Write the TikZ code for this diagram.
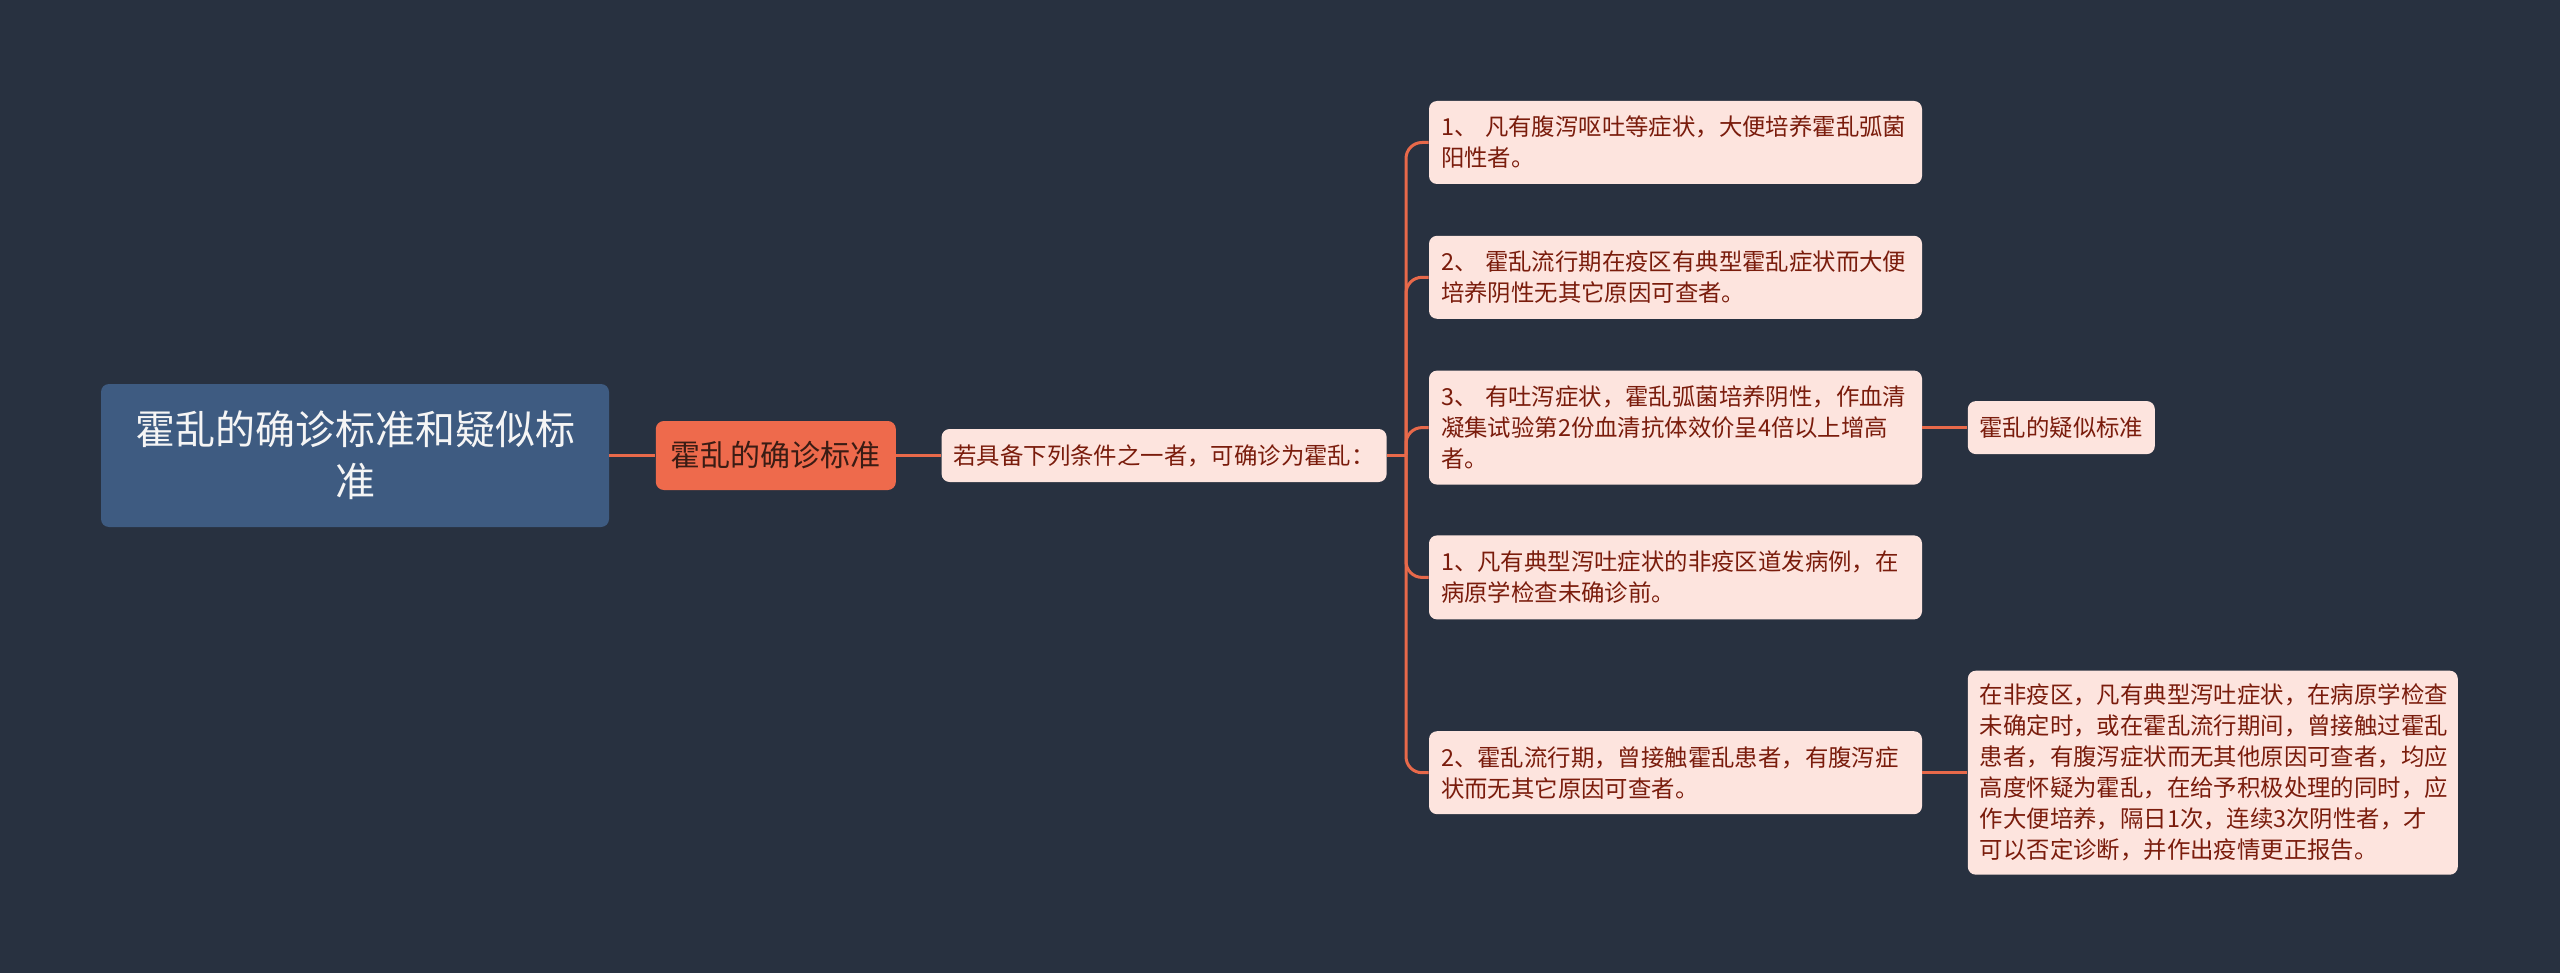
\documentclass[tikz,border=0pt]{standalone}
\usepackage{fontspec}
\newfontfamily\cjk{Noto Sans CJK SC}
\usetikzlibrary{positioning}
\definecolor{bgdark}{HTML}{283140}
\definecolor{rootblue}{HTML}{3E5B81}
\definecolor{topiccoral}{HTML}{EE6A4C}
\definecolor{topictext}{HTML}{3A1C14}
\definecolor{leafpink}{HTML}{FDE4DE}
\definecolor{leaftext}{HTML}{7A1C0C}
\definecolor{linkcoral}{HTML}{E8694A}

\begin{document}
\begin{tikzpicture}[
  x=0.5pt, y=-0.5pt,
  rootbox/.style={fill=rootblue, text=white!96!black, rounded corners=4pt,
                  font=\cjk\fontsize{20}{26}\selectfont, align=center,
                  minimum width=254pt, minimum height=71.5pt, inner sep=0pt},
  topicbox/.style={fill=topiccoral, text=topictext, rounded corners=4pt,
                   font=\cjk\fontsize{15}{19}\selectfont,
                   minimum width=120pt, minimum height=34.5pt, inner sep=0pt},
  tagbox/.style={fill=leafpink, text=leaftext, rounded corners=4pt,
                 font=\cjk\fontsize{11.7}{15.5}\selectfont,
                 minimum height=26.5pt, inner sep=0pt},
  leafbox/.style={fill=leafpink, text=leaftext, rounded corners=4pt,
                  font=\cjk\fontsize{11.7}{15.5}\selectfont, align=left,
                  text width=234.5pt, inner xsep=6pt, inner ysep=0pt},
  link/.style={draw=linkcoral, line width=1.5pt},
  node distance=25.5pt
]
\useasboundingbox[fill=bgdark] (0,0) rectangle (2560,973);

\node[rootbox] (root) at (355,455.5) {霍乱的确诊标准和疑似标\\准};
\node[topicbox, right=23pt of root] (topic) {霍乱的确诊标准};
\node[tagbox, minimum width=222.5pt, right=22.5pt of topic] (cond) {若具备下列条件之一者，可确诊为霍乱：};

\node[leafbox, minimum height=41.5pt] (c1) at (1675.5,142.5) {1、 凡有腹泻呕吐等症状，大便培养霍乱弧菌\\阳性者。};
\node[leafbox, minimum height=41.5pt, below=of c1] (c2) {2、 霍乱流行期在疫区有典型霍乱症状而大便\\培养阴性无其它原因可查者。};
\node[leafbox, minimum height=57pt, below=of c2] (c3) {3、 有吐泻症状，霍乱弧菌培养阴性，作血清\\凝集试验第2份血清抗体效价呈4倍以上增高\\者。};
\node[leafbox, minimum height=42pt, below=25pt of c3] (c4) {1、凡有典型泻吐症状的非疫区道发病例，在\\病原学检查未确诊前。};
\node[leafbox, minimum height=41.5pt, below=55.5pt of c4] (c5) {2、霍乱流行期，曾接触霍乱患者，有腹泻症\\状而无其它原因可查者。};

\node[tagbox, minimum width=93.5pt, right=22.5pt of c3] (suspect) {霍乱的疑似标准};
\node[leafbox, text width=233pt, minimum height=102pt, right=22.5pt of c5] (detail)
  {在非疫区，凡有典型泻吐症状，在病原学检查\\未确定时，或在霍乱流行期间，曾接触过霍乱\\患者，有腹泻症状而无其他原因可查者，均应\\高度怀疑为霍乱，在给予积极处理的同时，应\\作大便培养，隔日1次，连续3次阴性者，才\\可以否定诊断，并作出疫情更正报告。};

% connectors
\draw[link] (root.east) -- (topic.west);
\draw[link] (topic.east) -- (cond.west);
\coordinate (fork) at (1406,455.5);
\draw[link] (cond.east) -- (fork);
\foreach \leaf in {c1,c2,c3,c4,c5}
  \draw[link, rounded corners=8pt] (fork) |- (\leaf.west);
\draw[link] (c3.east) -- (suspect.west);
\draw[link] (c5.east) -- (detail.west);
\end{tikzpicture}
\end{document}
